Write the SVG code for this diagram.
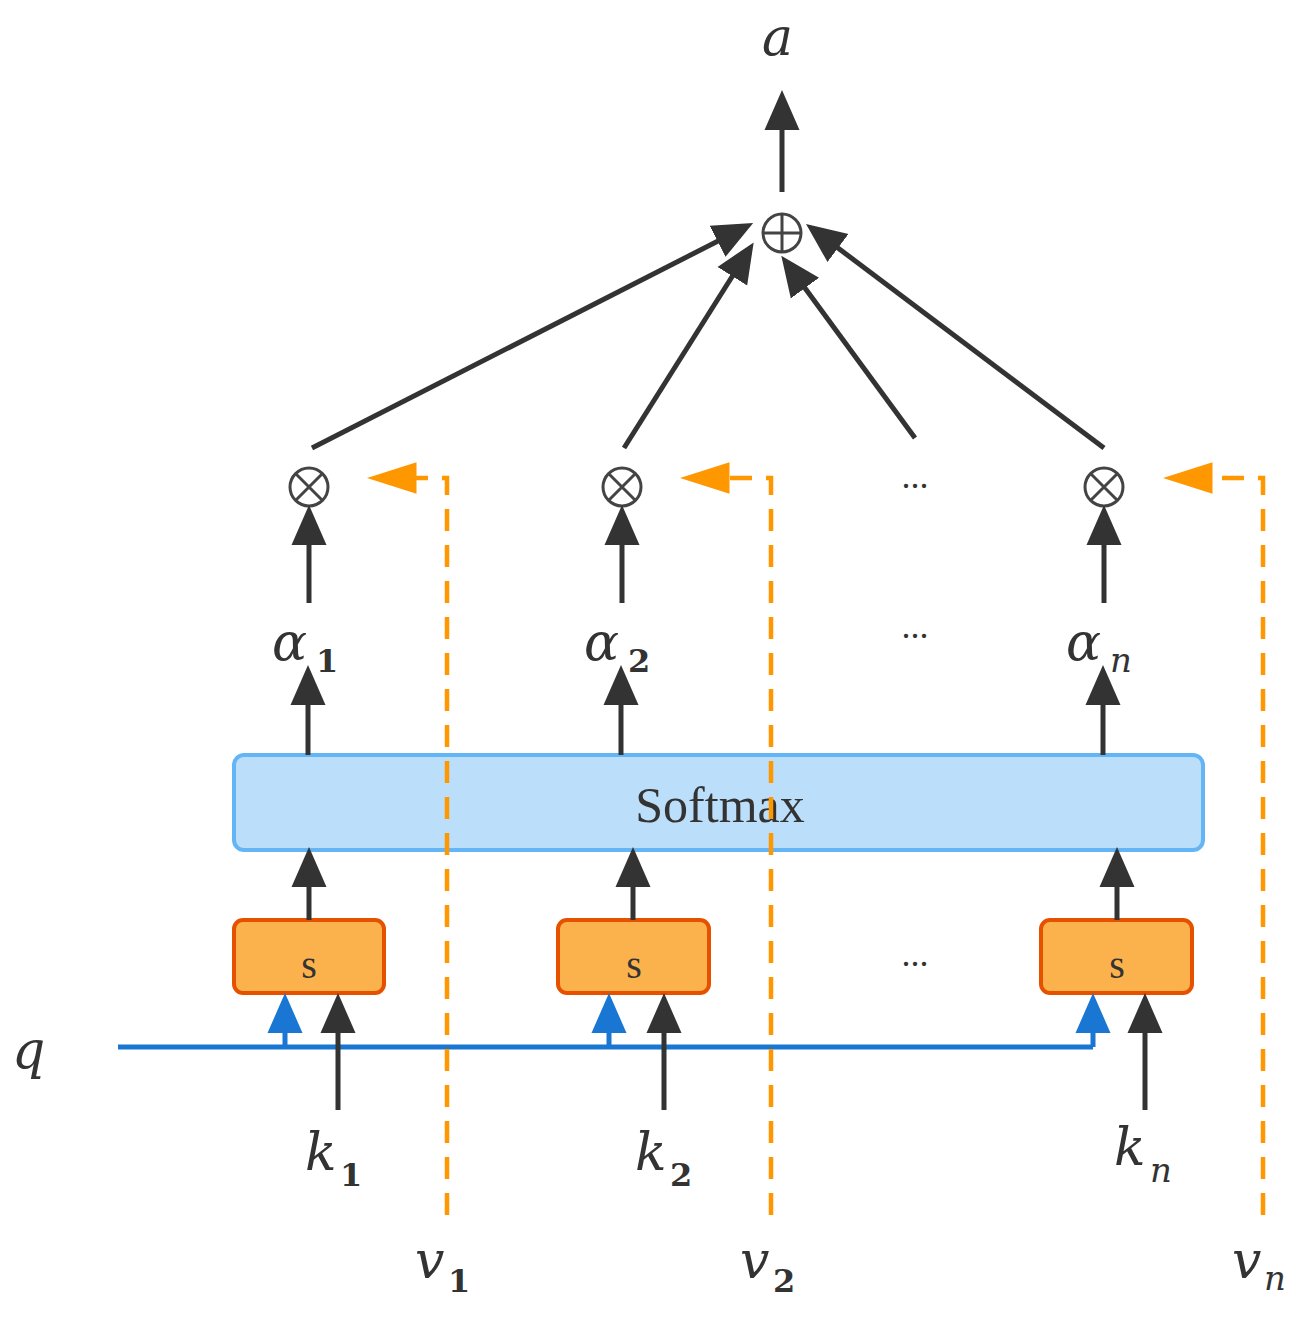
<svg xmlns="http://www.w3.org/2000/svg" width="1316" height="1319" viewBox="0 0 1316 1319">
<style>
.k{stroke:#333;stroke-width:5;fill:none}
.b{stroke:#1976d2;stroke-width:5;fill:none}
.o{stroke:#ff9800;stroke-width:4.5;fill:none;stroke-dasharray:22,14}
.m{font-family:"DejaVu Serif","Liberation Serif",serif;font-style:italic;fill:#333}
.sub{font-family:"DejaVu Serif","Liberation Serif",serif;fill:#333;font-weight:bold}
.t{font-family:"Liberation Serif",serif;fill:#333;text-anchor:middle}
.op{fill:none;stroke:#444;stroke-width:3}
.sb{fill:#fbb24c;stroke:#e65100;stroke-width:4}
</style>
<defs>
<marker id="ak" markerWidth="8" markerHeight="8" refX="1" refY="4" orient="auto" markerUnits="strokeWidth"><path d="M0,0.5 L8,4 L0,7.5 Z" fill="#333"/></marker>
<marker id="ab" markerWidth="8" markerHeight="8" refX="1" refY="4" orient="auto" markerUnits="strokeWidth"><path d="M0,0.5 L8,4 L0,7.5 Z" fill="#1976d2"/></marker>
<marker id="ao" markerWidth="12" markerHeight="8" refX="1" refY="4" orient="auto" markerUnits="strokeWidth"><path d="M0,0.5 L11,4 L0,7.5 Z" fill="#ff9800"/></marker>
</defs>
<g id="softmax"><rect x="234" y="755" width="969" height="95" rx="10" fill="#bbdefa" stroke="#64b5f6" stroke-width="4"/><text class="t" x="720" y="822" font-size="50">Softmax</text></g>
<g id="s1"><rect class="sb" x="234" y="920" width="150" height="73" rx="9"/><text class="t" x="309" y="978" font-size="40">s</text></g>
<g id="s2"><rect class="sb" x="558" y="920" width="151" height="73" rx="9"/><text class="t" x="634" y="978" font-size="40">s</text></g>
<g id="sn"><rect class="sb" x="1041" y="920" width="151" height="73" rx="9"/><text class="t" x="1117" y="978" font-size="40">s</text></g>
<g id="plus"><circle class="op" cx="782" cy="233" r="19"/><path class="op" d="M763,233H801M782,214V252"/></g>
<g id="x1"><circle class="op" cx="309" cy="487" r="19"/><path class="op" d="M296,474L322,500M322,474L296,500"/></g>
<g id="x2"><circle class="op" cx="622" cy="487" r="19"/><path class="op" d="M609,474L635,500M635,474L609,500"/></g>
<g id="xn"><circle class="op" cx="1104" cy="487" r="19"/><path class="op" d="M1091,474L1117,500M1117,474L1091,500"/></g>
<g id="labels">
<text class="m" x="762" y="55" font-size="52">a</text>
<text class="m" x="12" y="1068" font-size="52">q</text>
<text class="m" x="272" y="660" font-size="52">α</text><text class="sub" x="316" y="672" font-size="32">1</text>
<text class="m" x="584" y="660" font-size="52">α</text><text class="sub" x="628" y="672" font-size="32">2</text>
<text class="m" x="1066" y="660" font-size="52">α</text><text class="m" x="1110" y="672" font-size="34">n</text>
<text class="m" x="305" y="1170" font-size="52">k</text><text class="sub" x="340" y="1186" font-size="32">1</text>
<text class="m" x="635" y="1170" font-size="52">k</text><text class="sub" x="670" y="1186" font-size="32">2</text>
<text class="m" x="1114" y="1165" font-size="52">k</text><text class="m" x="1150" y="1182" font-size="34">n</text>
<text class="m" x="415" y="1278" font-size="52">v</text><text class="sub" x="448" y="1292" font-size="32">1</text>
<text class="m" x="740" y="1278" font-size="52">v</text><text class="sub" x="773" y="1292" font-size="32">2</text>
<text class="m" x="1232" y="1278" font-size="52">v</text><text class="m" x="1264" y="1290" font-size="34">n</text>
<text class="t" x="915" y="488" font-size="36">...</text>
<text class="t" x="915" y="638" font-size="36">...</text>
<text class="t" x="915" y="966" font-size="36">...</text>
</g>
<g id="connectors">
<line class="k" x1="782" y1="192" x2="782" y2="125" marker-end="url(#ak)"/>
<line class="k" x1="312" y1="448" x2="722" y2="239" marker-end="url(#ak)"/>
<line class="k" x1="624" y1="448" x2="735" y2="272" marker-end="url(#ak)"/>
<line class="k" x1="915" y1="438" x2="802" y2="284" marker-end="url(#ak)"/>
<line class="k" x1="1104" y1="448" x2="834" y2="245" marker-end="url(#ak)"/>
<line class="k" x1="309" y1="603" x2="309" y2="540" marker-end="url(#ak)"/>
<line class="k" x1="622" y1="603" x2="622" y2="540" marker-end="url(#ak)"/>
<line class="k" x1="1104" y1="603" x2="1104" y2="540" marker-end="url(#ak)"/>
<line class="k" x1="308" y1="755" x2="308" y2="700" marker-end="url(#ak)"/>
<line class="k" x1="621" y1="755" x2="621" y2="700" marker-end="url(#ak)"/>
<line class="k" x1="1103" y1="755" x2="1103" y2="700" marker-end="url(#ak)"/>
<line class="k" x1="309" y1="920" x2="309" y2="882" marker-end="url(#ak)"/>
<line class="k" x1="633" y1="920" x2="633" y2="882" marker-end="url(#ak)"/>
<line class="k" x1="1117" y1="920" x2="1117" y2="882" marker-end="url(#ak)"/>
<path class="b" d="M118,1047H1093"/>
<line class="b" x1="285" y1="1047" x2="285" y2="1028" marker-end="url(#ab)"/>
<line class="b" x1="609" y1="1047" x2="609" y2="1028" marker-end="url(#ab)"/>
<line class="b" x1="1093" y1="1047" x2="1093" y2="1028" marker-end="url(#ab)"/>
<line class="k" x1="338" y1="1110" x2="338" y2="1028" marker-end="url(#ak)"/>
<line class="k" x1="664" y1="1110" x2="664" y2="1028" marker-end="url(#ak)"/>
<line class="k" x1="1145" y1="1110" x2="1145" y2="1028" marker-end="url(#ak)"/>
<path class="o" d="M447,1215V478H412" marker-end="url(#ao)"/>
<path class="o" d="M771,1215V478H725" marker-end="url(#ao)"/>
<path class="o" d="M1263,1215V478H1208" marker-end="url(#ao)"/>
</g>
</svg>
